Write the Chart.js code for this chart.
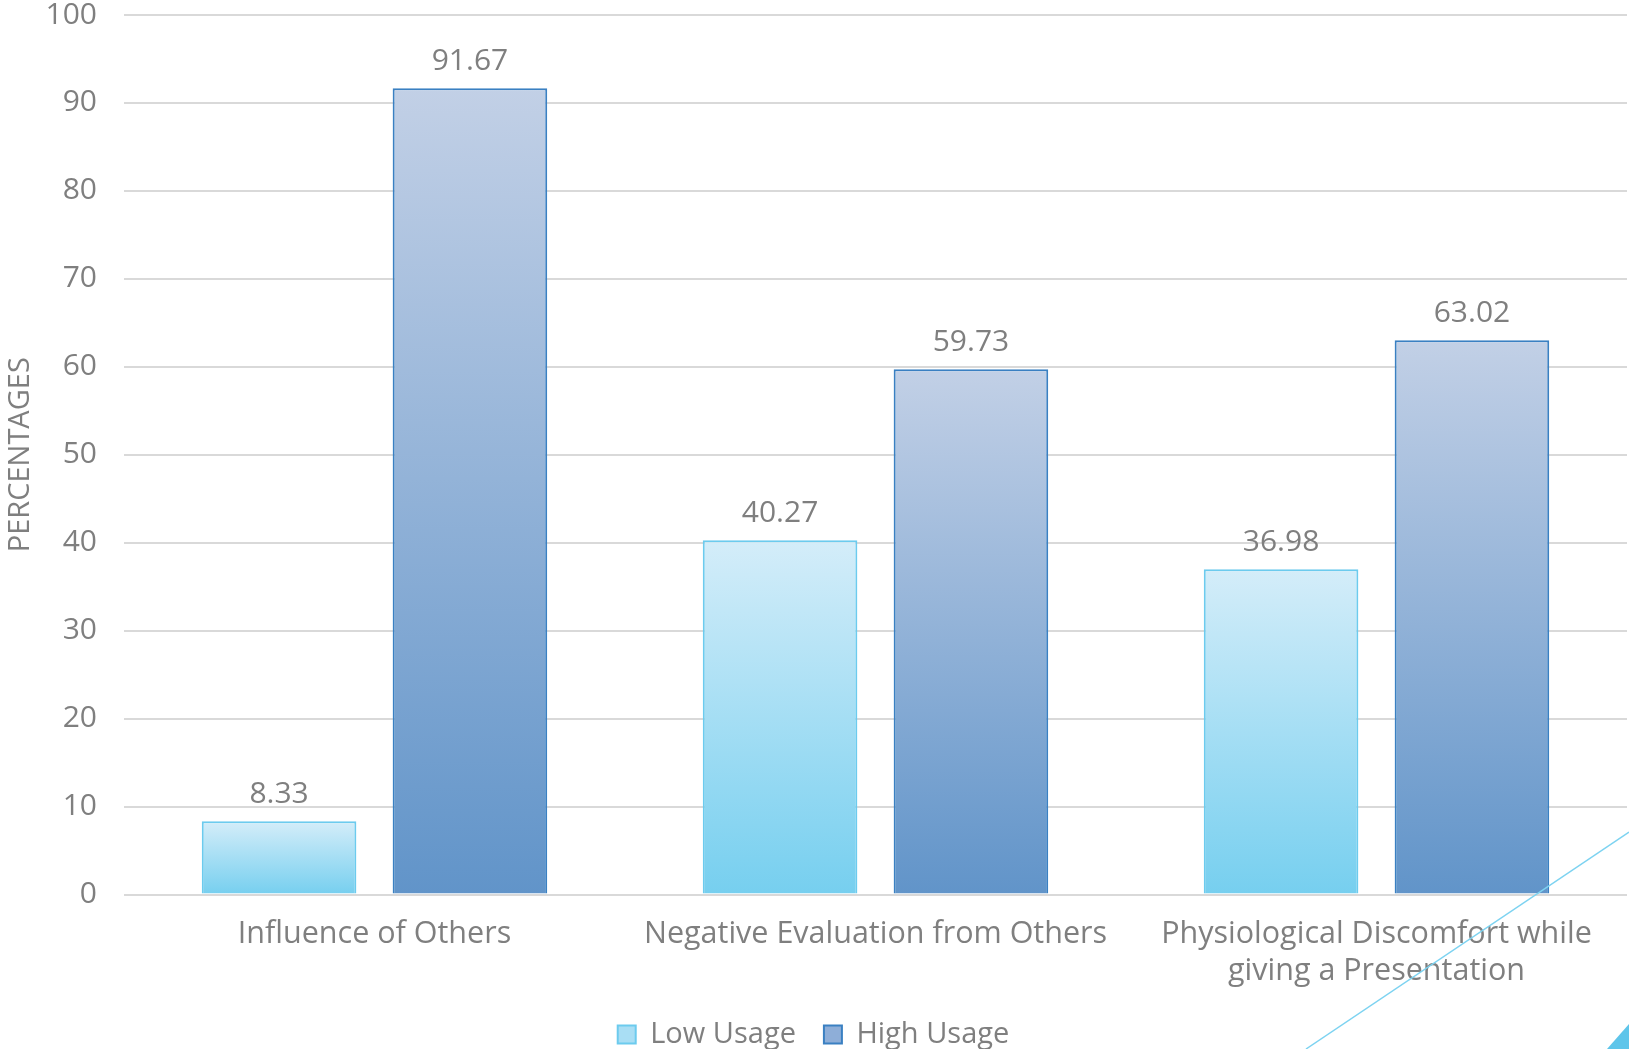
<!DOCTYPE html>
<html>
<head>
<meta charset="utf-8">
<script src="https://cdn.jsdelivr.net/npm/chart.js@4.4.1/dist/chart.umd.min.js"></script>
<style>
  html, body { margin: 0; padding: 0; background: #ffffff; }
  #wrap { position: relative; width: 1629px; height: 1049px; }
</style>
</head>
<body>
<div id="wrap"><canvas id="chart"></canvas></div>
<script>
// Categories and series
const categories = [
  'Influence of Others',
  'Negative Evaluation from Others',
  ['Physiological Discomfort while', 'giving a Presentation']
];
const lowUsage = [8.33, 40.27, 36.98];
const highUsage = [91.67, 59.73, 63.02];
const yTicks = [0, 10, 20, 30, 40, 50, 60, 70, 80, 90, 100];

const FONT = "'Open Sans', 'Liberation Sans', sans-serif";
const TEXT = '#7f7f7f';

// vertical gradient spanning each bar, light at top, deeper at bottom
function barGradient(topColor, bottomColor) {
  return function (ctx) {
    const chart = ctx.chart;
    if (!chart.chartArea || ctx.type !== 'data') return bottomColor;
    const y = chart.scales.y;
    const top = y.getPixelForValue(ctx.raw);
    const bottom = y.getPixelForValue(0);
    const g = chart.ctx.createLinearGradient(0, top, 0, bottom);
    g.addColorStop(0, topColor);
    g.addColorStop(1, bottomColor);
    return g;
  };
}

// value labels above each bar
const valueLabels = {
  id: 'valueLabels',
  afterDatasetsDraw(chart) {
    const ctx = chart.ctx;
    ctx.save();
    ctx.font = '30px ' + FONT;
    ctx.fillStyle = TEXT;
    ctx.textAlign = 'center';
    ctx.textBaseline = 'middle';
    chart.data.datasets.forEach((ds, i) => {
      chart.getDatasetMeta(i).data.forEach((bar, j) => {
        ctx.fillText(ds.data[j].toFixed(2), bar.x, bar.y - 27);
      });
    });
    ctx.restore();
  }
};

// thin accent line and corner wedge of the slide
const slideAccent = {
  id: 'slideAccent',
  afterDraw(chart) {
    const ctx = chart.ctx;
    const w = chart.width, h = chart.height;
    ctx.save();
    ctx.strokeStyle = '#7dd3f1';
    ctx.lineWidth = 1.5;
    ctx.beginPath();
    ctx.moveTo(w - 323, h);
    ctx.lineTo(w, h - 217);
    ctx.stroke();
    ctx.fillStyle = '#5ec5ea';
    ctx.beginPath();
    ctx.moveTo(w - 22, h);
    ctx.lineTo(w, h);
    ctx.lineTo(w, h - 25);
    ctx.closePath();
    ctx.fill();
    ctx.restore();
  }
};

new Chart(document.getElementById('chart'), {
  type: 'bar',
  data: {
    labels: categories,
    datasets: [
      {
        label: 'Low Usage',
        data: lowUsage,
        backgroundColor: barGradient('#d4edf9', '#76cfef'),
        borderColor: '#6ccbee',
        borderWidth: 2,
        legendFill: '#a9def4',
        legendBorder: '#6ccbee'
      },
      {
        label: 'High Usage',
        data: highUsage,
        backgroundColor: barGradient('#c2d0e6', '#6194c9'),
        borderColor: '#3a80c2',
        borderWidth: 2,
        legendFill: '#8eaed8',
        legendBorder: '#3a80c2'
      }
    ]
  },
  options: {
    responsive: true,
    maintainAspectRatio: false,
    animation: false,
    layout: { padding: { top: 15, right: 2, left: 0, bottom: -10 } },
    datasets: {
      bar: { categoryPercentage: 0.762, barPercentage: 0.81 }
    },
    scales: {
      x: {
        grid: { display: false },
        border: { display: false },
        ticks: {
          color: TEXT,
          font: { family: FONT, size: 30.5, lineHeight: 1.2 },
          padding: 14,
          maxRotation: 0,
          autoSkip: false
        },
        afterFit(s) { s.height = 97.5; }
      },
      y: {
        min: 0,
        max: 100,
        afterBuildTicks(s) { s.ticks = yTicks.map(v => ({ value: v })); },
        grid: { color: '#d9d9d9', lineWidth: 2, drawTicks: true, tickLength: 27, tickColor: 'rgba(0,0,0,0)' },
        border: { display: false },
        ticks: {
          color: TEXT,
          font: { family: FONT, size: 30, lineHeight: 0.95 },
          padding: 0
        },
        title: {
          display: true,
          text: 'PERCENTAGES',
          color: TEXT,
          font: { family: FONT, size: 29 },
          padding: { top: 3, bottom: 0 }
        },
        afterFit(s) { s.width = 124; }
      }
    },
    plugins: {
      tooltip: { enabled: false },
      legend: {
        position: 'bottom',
        labels: {
          color: TEXT,
          font: { family: FONT, size: 29 },
          boxWidth: 18,
          boxHeight: 18,
          padding: 28,
          generateLabels(chart) {
            return chart.data.datasets.map((ds, i) => ({
              text: ds.label,
              fillStyle: ds.legendFill,
              strokeStyle: ds.legendBorder,
              lineWidth: 2,
              fontColor: TEXT,
              hidden: false,
              datasetIndex: i
            }));
          }
        }
      }
    }
  },
  plugins: [valueLabels, slideAccent]
});
</script>
</body>
</html>
